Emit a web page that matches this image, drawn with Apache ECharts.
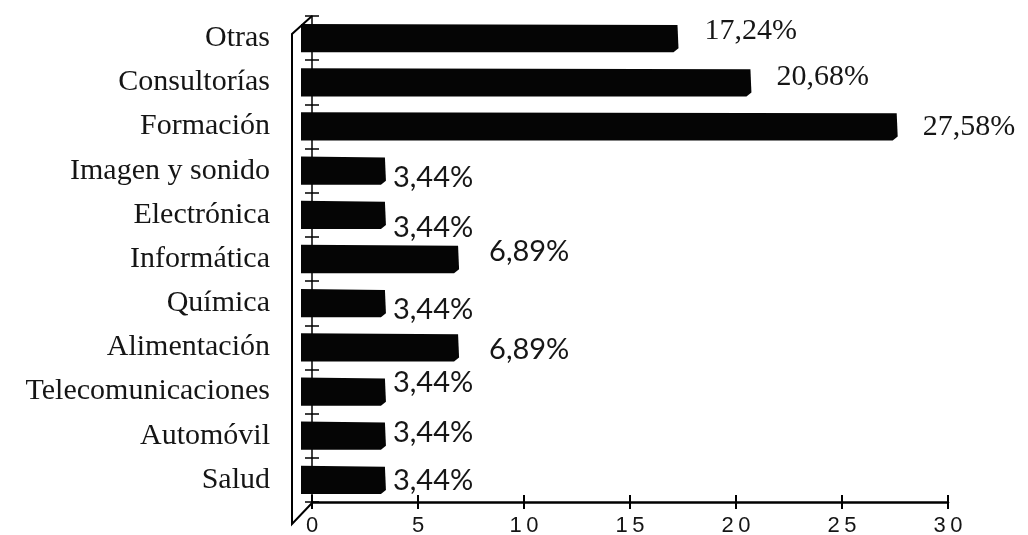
<!DOCTYPE html>
<html>
<head>
<meta charset="utf-8">
<script src="https://cdn.jsdelivr.net/npm/echarts@6/dist/echarts.min.js"></script>
<style>
  html, body { margin: 0; padding: 0; background: #ffffff; }
  #chart { width: 1028px; height: 535px; }
</style>
</head>
<body>
<div id="chart"></div>
<script>
// Sectors of activity and their share (%)
const categories = ['Otras', 'Consultorías', 'Formación', 'Imagen y sonido', 'Electrónica',
  'Informática', 'Química', 'Alimentación', 'Telecomunicaciones', 'Automóvil', 'Salud'];
const shares = [17.24, 20.68, 27.58, 3.44, 3.44, 6.89, 3.44, 6.89, 3.44, 3.44, 3.44];
const xTickValues = [0, 5, 10, 15, 20, 25, 30];

// Label placement relative to each bar end (pixels): [dx, dy]
const labelShift = [[27, -7], [26, -5], [26, 1], [8, 7], [8, 13], [31, -7], [8, 6], [31, 2], [8, -9], [8, -3], [8, 1]];
const serifLabel = [true, true, true, false, false, false, false, false, false, false, false];

const W = 1028, H = 535;
const G = { left: 312, top: 16, right: 80, bottom: 33 };
const DEPTH = 20;

const fmt = v => v.toFixed(2).replace('.', ',') + '%';

const chart = echarts.init(document.getElementById('chart'), null, { renderer: 'canvas' });

function renderBar(params, api) {
  const v = api.value(0);
  const i = api.value(1);
  const start = api.coord([0, i]);
  const end = api.coord([v, i]);
  const h = api.size([0, 1])[1] * 0.64;
  const x0 = start[0] - 11;
  const x1 = end[0];
  const yc = end[1];
  const top = yc - h / 2, bot = yc + h / 2;
  const sh = labelShift[i];
  return {
    type: 'group',
    children: [
      {
        type: 'polygon',
        shape: { points: [[x0, top], [x1, top + 1], [x1 + 1, bot - 4], [x1 - 4, bot], [x0, bot]] },
        style: { fill: '#050505' }
      },
      {
        type: 'text',
        x: x1 + sh[0],
        y: yc + sh[1],
        style: {
          text: fmt(v),
          fontSize: serifLabel[i] ? 30 : 29,
          fontFamily: serifLabel[i] ? '"Liberation Serif", serif' : 'Lato, "Liberation Sans", sans-serif',
          fill: '#161616',
          align: 'left',
          verticalAlign: 'middle'
        }
      }
    ]
  };
}

const tickFmt = v => String(v).split('').join('\u2009');

chart.setOption({
  animation: false,
  backgroundColor: '#ffffff',
  grid: { left: G.left, top: G.top, right: G.right, bottom: G.bottom, containLabel: false, outerBoundsMode: 'none' },
  xAxis: [
    {
      type: 'value',
      position: 'bottom',
      min: xTickValues[0],
      max: xTickValues[xTickValues.length - 1],
      interval: xTickValues[1] - xTickValues[0],
      axisLine: { show: true, lineStyle: { color: '#000', width: 2.5 } },
      axisTick: { show: true, length: 7, lineStyle: { color: '#000', width: 2 } },
      splitLine: { show: false },
      axisLabel: {
        margin: 13,
        formatter: tickFmt,
        fontFamily: '"Liberation Sans", Arial, sans-serif',
        fontSize: 22,
        color: '#151515'
      }
    },
    {
      type: 'value',
      position: 'bottom',
      min: xTickValues[0],
      max: xTickValues[xTickValues.length - 1],
      interval: xTickValues[1] - xTickValues[0],
      axisLine: { show: false },
      axisTick: { show: true, inside: true, length: 7, lineStyle: { color: '#000', width: 2 } },
      splitLine: { show: false },
      axisLabel: { show: false }
    }
  ],
  yAxis: [
    {
      type: 'category',
      position: 'left',
      data: categories,
      inverse: true,
      axisLine: { show: true, lineStyle: { color: '#000', width: 1.5 } },
      axisTick: { show: true, length: 7, lineStyle: { color: '#000', width: 1.5 } },
      splitLine: { show: false },
      axisLabel: {
        margin: 42,
        fontFamily: '"Liberation Serif", "Times New Roman", serif',
        fontSize: 30,
        color: '#151515'
      }
    },
    {
      type: 'category',
      position: 'left',
      data: categories,
      inverse: true,
      axisLine: { show: false },
      axisTick: { show: true, inside: true, length: 7, lineStyle: { color: '#000', width: 1.5 } },
      splitLine: { show: false },
      axisLabel: { show: false }
    }
  ],
  series: [
    {
      type: 'custom',
      name: 'Sectores',
      xAxisIndex: 0,
      yAxisIndex: 0,
      renderItem: renderBar,
      encode: { x: 0, y: 1 },
      data: shares.map((v, i) => [v, i]),
      z: 3
    }
  ],
  graphic: [
    {
      // back edge of the box frame
      type: 'polyline',
      shape: {
        points: [
          [G.left, G.top],
          [G.left - DEPTH, G.top + DEPTH - 2],
          [G.left - DEPTH, H - G.bottom + DEPTH + 2],
          [G.left, H - G.bottom + 1]
        ]
      },
      style: { stroke: '#000', lineWidth: 2, fill: null },
      z: 10
    }
  ]
});
</script>
</body>
</html>
